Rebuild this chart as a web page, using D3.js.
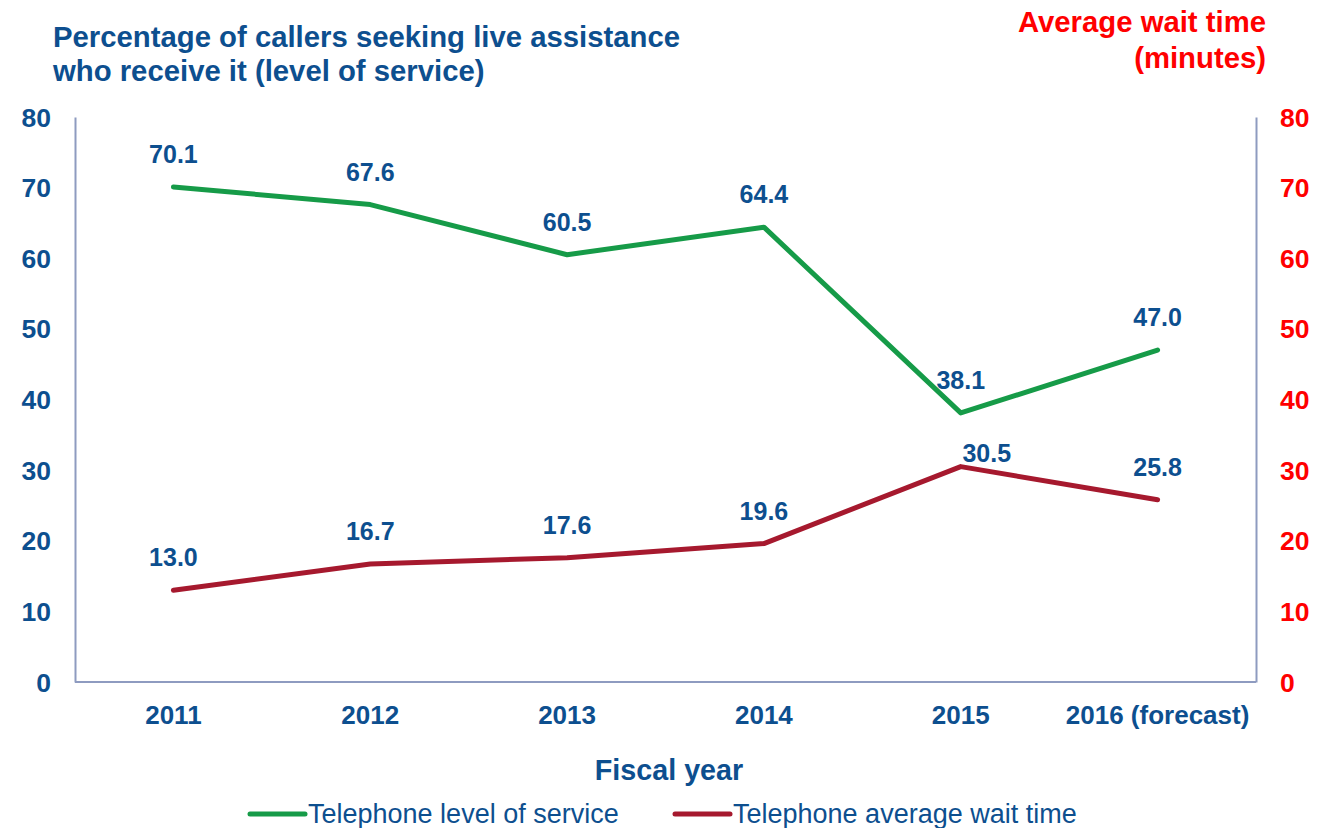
<!DOCTYPE html>
<html>
<head>
<meta charset="utf-8">
<script src="https://cdn.jsdelivr.net/npm/d3@7"></script>
<style>
  html, body { margin: 0; padding: 0; background: #ffffff; }
  svg { display: block; font-family: "Liberation Sans", Arial, sans-serif; }
</style>
</head>
<body>
<svg id="chart" width="1328" height="828"></svg>
<script>
// Fiscal years on the x axis
const years = ["2011", "2012", "2013", "2014", "2015", "2016 (forecast)"];
// Telephone level of service (% of callers seeking live assistance who receive it)
const levelOfService = [70.1, 67.6, 60.5, 64.4, 38.1, 47.0];
// Telephone average wait time (minutes)
const avgWaitTime = [13.0, 16.7, 17.6, 19.6, 30.5, 25.8];
// Axis tick values (both axes share 0–80)
const yTicks = [0, 10, 20, 30, 40, 50, 60, 70, 80];

const seriesNames = ["Telephone level of service", "Telephone average wait time"];

const BLUE = "#0d4f8f";
const GREEN = "#169b48";
const MAROON = "#a6192e";
const RED = "#ff0000";
const AXIS = "#8e9bc0";

const svg = d3.select("#chart");
const plot = { left: 75, right: 1256, top: 117, bottom: 682 };

const x = d3.scalePoint()
  .domain(years)
  .range([plot.left, plot.right])
  .padding(0.5);

const yLeft = d3.scaleLinear().domain([0, 80]).range([plot.bottom, plot.top]);
const yRight = d3.scaleLinear().domain([0, 80]).range([plot.bottom, plot.top]);

// Frame: left, bottom and right axis lines
svg.append("g")
  .attr("transform", `translate(${plot.left},0)`)
  .call(d3.axisLeft(yLeft).tickValues(yTicks).tickSize(0).tickFormat(""))
  .call(g => g.select(".domain").attr("stroke", AXIS).attr("stroke-width", 2));

svg.append("g")
  .attr("transform", `translate(${plot.right},0)`)
  .call(d3.axisRight(yRight).tickValues(yTicks).tickSize(0).tickFormat(""))
  .call(g => g.select(".domain").attr("stroke", AXIS).attr("stroke-width", 2));

svg.append("g")
  .attr("transform", `translate(0,${plot.bottom})`)
  .call(d3.axisBottom(x).tickSize(0).tickFormat(""))
  .call(g => g.select(".domain").attr("stroke", AXIS).attr("stroke-width", 2)
    .attr("d", `M0,0H${plot.right - plot.left}`).attr("transform", `translate(${plot.left},0)`));

// Left tick labels
svg.append("g").selectAll("text")
  .data(yTicks).join("text")
  .attr("x", 51)
  .attr("y", d => yLeft(d))
  .attr("dy", "0.36em")
  .attr("text-anchor", "end")
  .attr("font-size", 26.5)
  .attr("font-weight", "bold")
  .attr("fill", BLUE)
  .text(d => d);

// Right tick labels
svg.append("g").selectAll("text")
  .data(yTicks).join("text")
  .attr("x", 1280)
  .attr("y", d => yRight(d))
  .attr("dy", "0.36em")
  .attr("text-anchor", "start")
  .attr("font-size", 26.5)
  .attr("font-weight", "bold")
  .attr("fill", RED)
  .text(d => d);

// Year labels
svg.append("g").selectAll("text")
  .data(years).join("text")
  .attr("x", d => x(d))
  .attr("y", 724)
  .attr("text-anchor", "middle")
  .attr("font-size", 26)
  .attr("font-weight", "bold")
  .attr("fill", BLUE)
  .text(d => d);

// Axis titles
const leftTitle = svg.append("text")
  .attr("font-size", 29.3)
  .attr("font-weight", "bold")
  .attr("fill", BLUE);
leftTitle.append("tspan").attr("x", 53).attr("y", 47).text("Percentage of callers seeking live assistance");
leftTitle.append("tspan").attr("x", 53).attr("y", 81).text("who receive it (level of service)");

const rightTitle = svg.append("text")
  .attr("font-size", 29.3)
  .attr("font-weight", "bold")
  .attr("fill", RED)
  .attr("text-anchor", "end");
rightTitle.append("tspan").attr("x", 1266).attr("y", 32).text("Average wait time");
rightTitle.append("tspan").attr("x", 1266).attr("y", 68).text("(minutes)");

svg.append("text")
  .attr("x", 669)
  .attr("y", 780)
  .attr("text-anchor", "middle")
  .attr("font-size", 28.7)
  .attr("font-weight", "bold")
  .attr("fill", BLUE)
  .text("Fiscal year");

// Series lines
const series = [
  { name: seriesNames[0], values: levelOfService, scale: yLeft, color: GREEN },
  { name: seriesNames[1], values: avgWaitTime, scale: yRight, color: MAROON }
];

series.forEach(s => {
  const line = d3.line()
    .x((d, i) => x(years[i]))
    .y(d => s.scale(d));
  svg.append("path")
    .datum(s.values)
    .attr("fill", "none")
    .attr("stroke", s.color)
    .attr("stroke-width", 5)
    .attr("stroke-linejoin", "round")
    .attr("stroke-linecap", "round")
    .attr("d", line);
});

// Value labels above each point; the 2015 wait-time label sits to the right
// so that it clears the level-of-service label just above it.
series.forEach((s, si) => {
  svg.append("g").selectAll("text")
    .data(s.values).join("text")
    .attr("x", (d, i) => x(years[i]) + (si === 1 && i === 4 ? 26 : 0))
    .attr("y", (d, i) => s.scale(d) - (si === 1 && i === 4 ? 5 : 24))
    .attr("text-anchor", "middle")
    .attr("font-size", 25)
    .attr("font-weight", "bold")
    .attr("fill", BLUE)
    .text(d => d.toFixed(1));
});

// Legend
const legendItems = [
  { name: seriesNames[0], color: GREEN, x: 250 },
  { name: seriesNames[1], color: MAROON, x: 675 }
];
const legend = svg.append("g");
legendItems.forEach(item => {
  legend.append("line")
    .attr("x1", item.x).attr("x2", item.x + 55)
    .attr("y1", 814).attr("y2", 814)
    .attr("stroke", item.color)
    .attr("stroke-width", 5)
    .attr("stroke-linecap", "round");
  legend.append("text")
    .attr("x", item.x + 58)
    .attr("y", 823)
    .attr("font-size", 27)
    .attr("fill", BLUE)
    .text(item.name);
});
</script>
</body>
</html>
